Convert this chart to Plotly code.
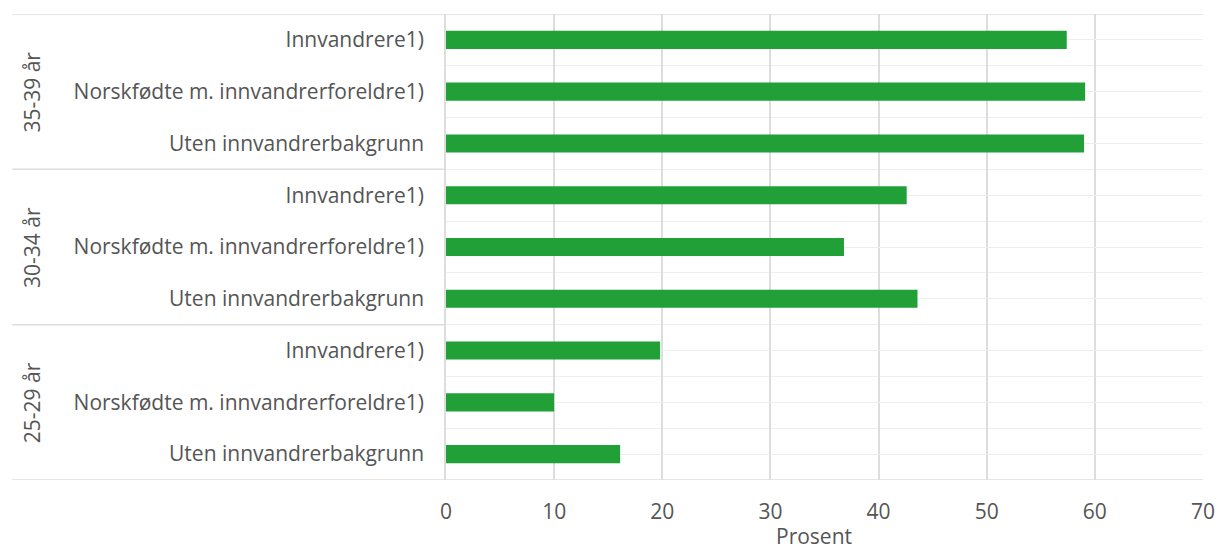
import plotly.graph_objects as go

age_groups = ["25-29 år", "30-34 år", "35-39 år"]
subgroups = ["Uten innvandrerbakgrunn", "Norskfødte m. innvandrerforeldre1)", "Innvandrere1)"]
values_25_29 = [16.1, 10.0, 19.8]
values_30_34 = [43.6, 36.8, 42.6]
values_35_39 = [59.0, 59.1, 57.4]
x_ticks = [0, 10, 20, 30, 40, 50, 60, 70]
x_title = "Prosent"

all_values = values_25_29 + values_30_34 + values_35_39
labels = subgroups * len(age_groups)
positions = list(range(len(all_values)))

FONT = "Open Sans"
FS = 21
TXT = "#555555"
GRID_V = "#dddddd"
GRID_H = "#eeeeee"

fig = go.Figure()
fig.add_trace(go.Bar(
    x=all_values, y=positions, orientation="h",
    marker=dict(color="#21a038", line=dict(width=0)),
    width=0.35, showlegend=False,
))

n_sub = len(subgroups)
boundaries = [p + 0.5 for p in positions[:-1]]
group_edges = [-0.5] + [g * n_sub - 0.5 for g in range(1, len(age_groups))] + [len(positions) - 0.5]

fig.update_layout(
    width=1219, height=550,
    margin=dict(l=446, r=16, t=14, b=70, autoexpand=False),
    plot_bgcolor="white", paper_bgcolor="white",
    font=dict(family=FONT, size=FS, color=TXT),
    xaxis=dict(
        range=[0, 70], tickvals=x_ticks, showgrid=True, gridcolor=GRID_V, gridwidth=1.5,
        zeroline=False, showline=False, ticks="", tickfont=dict(size=FS, color=TXT),
        ticklabelstandoff=17, automargin=False,
    ),
    yaxis=dict(
        range=[-0.5, len(positions) - 0.5], tickvals=positions, ticktext=labels,
        showgrid=True, gridcolor=GRID_H, gridwidth=1, zeroline=False,
        showline=True, linecolor=GRID_V, linewidth=1.5, automargin=False,
        ticks="", ticklabelstandoff=16, tickfont=dict(size=FS, color=TXT),
        minor=dict(tickvals=boundaries, showgrid=True, gridcolor=GRID_H, gridwidth=1, ticks=""),
    ),
)

shapes = []
for e in group_edges:
    full = e in (group_edges[0], group_edges[-1])
    shapes.append(dict(type="line", xref="paper", yref="y", x0=-0.573, x1=1 if full else 0,
                       y0=e, y1=e, line=dict(color=GRID_V, width=1.5), layer="below"))
fig.update_layout(shapes=shapes)

for g, name in enumerate(age_groups):
    center = g * n_sub + (n_sub - 1) / 2
    fig.add_annotation(x=-0.547, xref="paper", y=center, yref="y", text=name, textangle=-90,
                       showarrow=False, font=dict(size=FS, color=TXT, family=FONT),
                       xanchor="center", yanchor="middle")

fig.add_annotation(x=0.486, xref="paper", y=-0.121, yref="paper", text=x_title, showarrow=False,
                   font=dict(size=FS, color=TXT, family=FONT), xanchor="center", yanchor="middle")

fig.write_html("out.html", config={"displayModeBar": False},
               post_script="document.body.style.margin='0';")
